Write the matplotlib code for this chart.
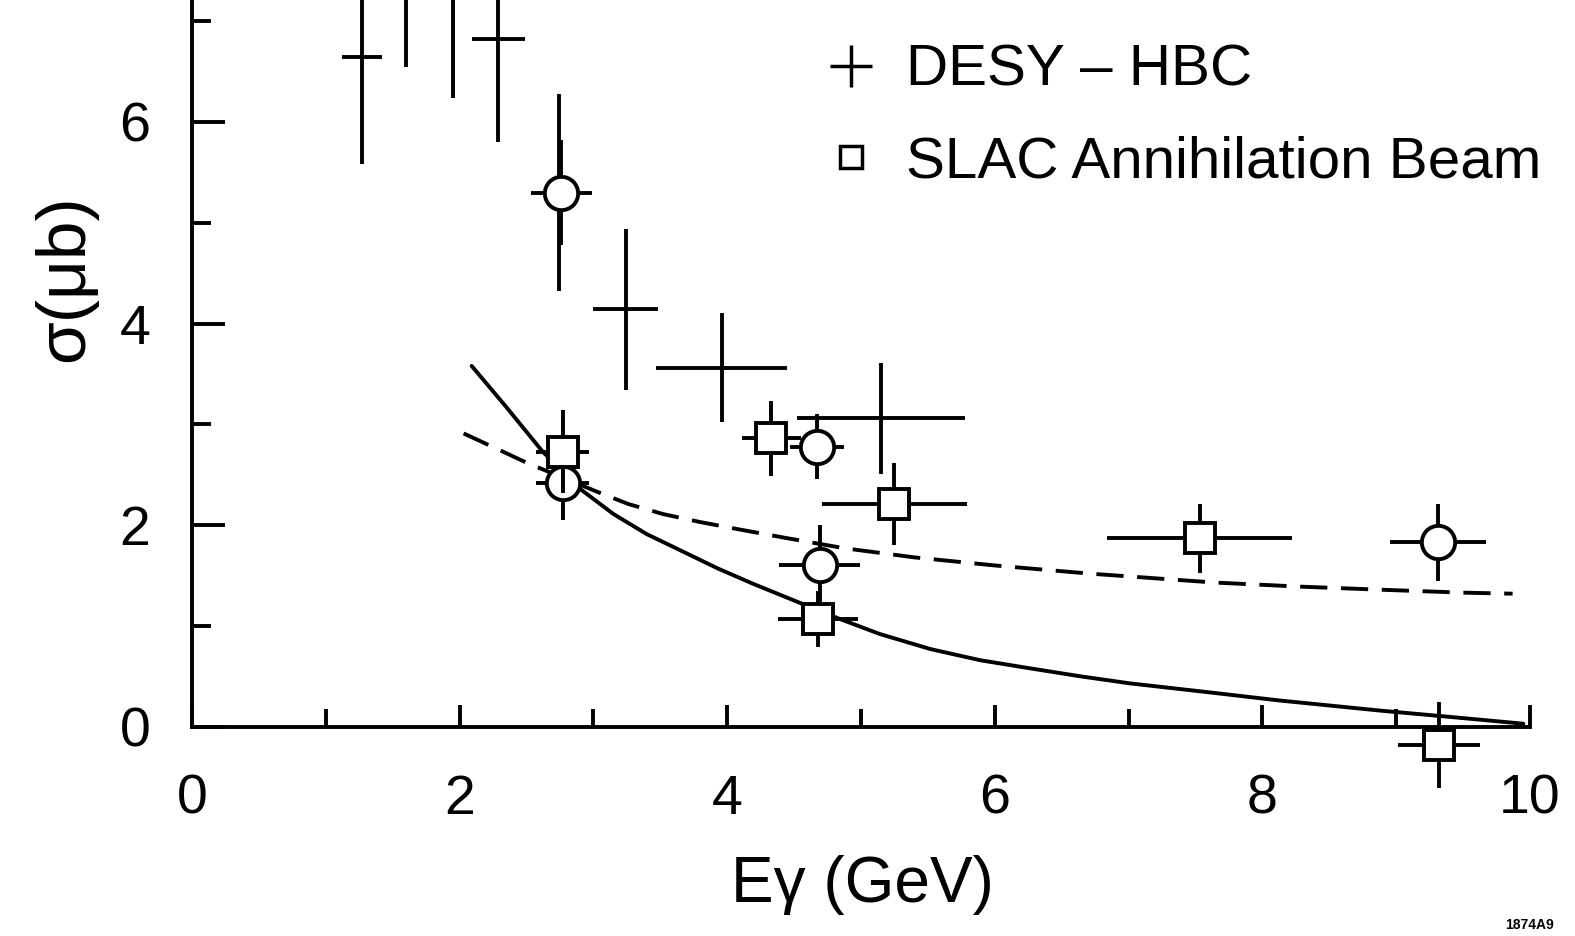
import matplotlib.pyplot as plt
from matplotlib.lines import Line2D
from matplotlib.ticker import MultipleLocator

plt.rcParams['font.family'] = ['Liberation Sans', 'DejaVu Sans']

# DESY - HBC (crosses, no marker)
desy_x = [1.27, 1.60, 1.95, 2.29, 2.74, 3.24, 3.96, 5.15]
desy_y = [6.64, 7.60, 7.40, 6.82, 5.30, 4.14, 3.56, 3.06]
desy_xerr = [0.15, 0.15, 0.15, 0.20, 0.0, 0.245, 0.49, 0.63]
desy_yerr = [1.06, 1.05, 1.16, 1.02, 0.98, 0.80, 0.54, 0.55]

# SLAC annihilation beam (open squares)
slac_x = [2.77, 4.33, 4.68, 5.25, 7.53, 9.32]
slac_y = [2.73, 2.86, 1.07, 2.21, 1.87, -0.18]
slac_xerr = [0.20, 0.22, 0.30, 0.54, 0.69, 0.31]
slac_yerr = [0.41, 0.37, 0.28, 0.41, 0.34, 0.43]

# open circles
circ_x = [2.76, 2.77, 4.67, 4.69, 9.31]
circ_y = [5.30, 2.42, 2.78, 1.60, 1.83]
circ_xerr = [0.23, 0.20, 0.20, 0.30, 0.36]
circ_yerr = [0.52, 0.37, 0.32, 0.40, 0.38]

# curves
solid_x = [2.09, 2.35, 2.62, 2.91, 3.15, 3.40, 3.65, 3.93, 4.19, 4.56, 4.82,
           5.14, 5.52, 5.89, 6.26, 6.64, 7.01, 7.61, 8.13, 8.88, 9.38, 9.95]
solid_y = [3.58, 3.17, 2.73, 2.35, 2.11, 1.91, 1.75, 1.57, 1.42, 1.22, 1.08,
           0.92, 0.77, 0.66, 0.58, 0.50, 0.43, 0.34, 0.26, 0.16, 0.10, 0.03]
dash_x = [2.03, 2.29, 2.50, 3.03, 3.26, 3.52, 3.80, 4.12, 4.45, 4.88, 5.40,
          6.00, 6.70, 7.33, 7.65, 8.28, 8.87, 9.50, 9.87]
dash_y = [2.91, 2.75, 2.62, 2.33, 2.21, 2.11, 2.03, 1.95, 1.87, 1.77, 1.68,
          1.60, 1.52, 1.46, 1.43, 1.39, 1.36, 1.33, 1.32]

fig = plt.figure(figsize=(15.75, 9.36), dpi=100)
ax = fig.add_axes([192 / 1575, 174 / 936, 1338 / 1575, 762 / 936])

lw = 2.8
ax.plot(solid_x, solid_y, color="black", lw=lw, solid_capstyle="round",
        solid_joinstyle="round")
ax.plot(dash_x, dash_y, color="black", lw=lw, dashes=(7, 3.5))

ax.errorbar(desy_x, desy_y, xerr=desy_xerr, yerr=desy_yerr, fmt="none",
            ecolor="black", elinewidth=lw, capsize=0)
ax.errorbar(circ_x, circ_y, xerr=circ_xerr, yerr=circ_yerr, fmt="o",
            ms=24, mfc="white", mec="black", mew=lw, ecolor="black",
            elinewidth=lw, capsize=0, zorder=4)
ax.errorbar(slac_x, slac_y, xerr=slac_xerr, yerr=slac_yerr, fmt="s",
            ms=21, mfc="white", mec="black", mew=lw, ecolor="black",
            elinewidth=lw, capsize=0, zorder=5, clip_on=False)

ax.set_xlim(0, 10)
ax.set_ylim(-0.35, 7.21)
ax.spines["top"].set_visible(False)
ax.spines["right"].set_visible(False)
ax.spines["bottom"].set_position(("data", 0))
ax.spines["left"].set_bounds(0, 7.21)
for s in ["bottom", "left"]:
    ax.spines[s].set_linewidth(lw)

ax.xaxis.set_major_locator(MultipleLocator(2))
ax.xaxis.set_minor_locator(MultipleLocator(1))
ax.yaxis.set_major_locator(MultipleLocator(2))
ax.yaxis.set_minor_locator(MultipleLocator(1))
ax.tick_params(axis="x", which="major", direction="in", length=16, width=lw,
               labelsize=40, pad=34)
ax.tick_params(axis="x", which="minor", direction="in", length=13, width=lw)
ax.tick_params(axis="y", which="major", direction="in", length=24, width=lw,
               labelsize=40, pad=30)
ax.tick_params(axis="y", which="minor", direction="in", length=14, width=lw)

fig.text(65 / 1575, 1 - 278 / 936, "σ(μb)", rotation=90, ha="center",
         va="center", fontsize=50)
fig.text(862 / 1575, 1 - 885 / 936, "Eγ (GeV)", ha="center", va="center",
         fontsize=46)
fig.text(1530 / 1575, 1 - 925 / 936, "1874A9", ha="center", va="center",
         fontsize=10, fontweight="bold")

handles = [
    Line2D([], [], ls="none", marker="+", ms=30, mew=2.5, color="black"),
    Line2D([], [], ls="none", marker="s", ms=16, mew=2.5, mfc="white", mec="black"),
]
ax.legend(handles, ["DESY – HBC", "SLAC Annihilation Beam"], loc="upper left",
          bbox_to_anchor=(0.466, 0.95), frameon=False, fontsize=42,
          handlelength=1.0, handletextpad=0.45, labelspacing=0.65,
          borderpad=0, borderaxespad=0.1)

fig.savefig("out.png", dpi=100)
